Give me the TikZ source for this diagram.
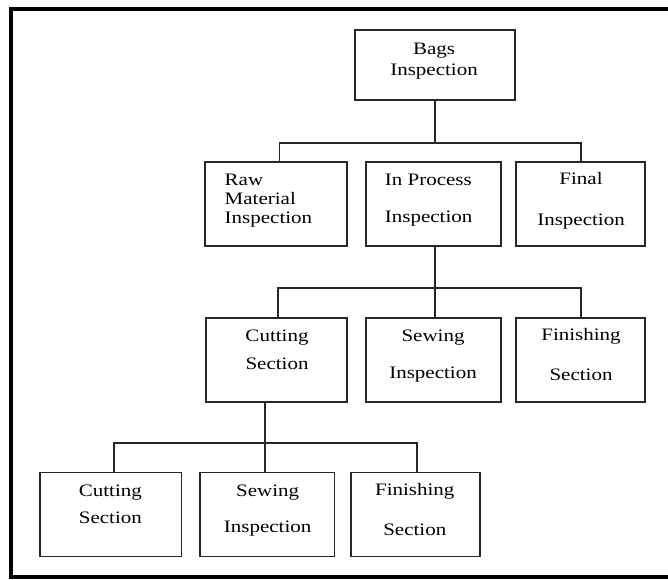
\documentclass[tikz,border=0pt]{standalone}
\usepackage{fontspec}
\usepackage{graphicx}
\setmainfont{Liberation Serif}
\tikzset{
  box/.style={draw=black!85, line width=1.5pt, inner sep=0pt, minimum height=84pt},
  txt/.style={anchor=base, inner sep=0pt, font=\fontsize{17.5}{21}\selectfont},
  txtl/.style={txt, anchor=base west},
  link/.style={draw=black!85, line width=1.5pt},
  frame/.style={line width=4pt}
}
\newcommand{\wide}[1]{\scalebox{1.2}[1]{#1}}
\begin{document}
\begin{tikzpicture}[x=1pt, y=-1pt]
\useasboundingbox (0,0) rectangle (668,579);
% open frame: top, left and bottom sides
\draw[frame] (668,9) -- (10.5,9) -- (10.5,577) -- (668,577);

% boxes
\node[box, minimum width=160pt, minimum height=70pt] (bags) at (435,65) {};
\node[box, minimum width=142pt] (raw)    at (276,204) {};
\node[box, minimum width=135pt] (inproc) at (433.5,204) {};
\node[box, minimum width=129pt] (final)  at (580.5,204) {};
\node[box, minimum width=141pt] (cut2)   at (276.5,360) {};
\node[box, minimum width=135pt] (sew2)   at (433.5,360) {};
\node[box, minimum width=129pt] (fin2)   at (580.5,360) {};
\node[box, minimum width=141.5pt] (cut3) at (110.75,514.25) {};
\node[box, minimum width=134.5pt] (sew3) at (267.25,514.25) {};
\node[box, minimum width=129pt]   (fin3) at (415.5,514.25) {};

% labels
\node[txt]  (bags-a)   at (434,54.3)  {\wide{Bags}};
\node[txt]  (bags-b)   at (434,75)    {\wide{Inspection}};
\node[txtl] (raw-a)    at (224.5,185) {\wide{Raw}};
\node[txtl] (raw-b)    at (224.5,204.3) {\wide{Material}};
\node[txtl] (raw-c)    at (224.5,223.3) {\wide{Inspection}};
\node[txtl] (inproc-a) at (384.7,185) {\wide{In Process}};
\node[txtl] (inproc-b) at (384.7,222.7) {\wide{Inspection}};
\node[txt]  (final-a)  at (581,184)   {\wide{Final}};
\node[txt]  (final-b)  at (581,225.3) {\wide{Inspection}};
\node[txt]  (cut2-a)   at (277,341.7) {\wide{Cutting}};
\node[txt]  (cut2-b)   at (277,369.3) {\wide{Section}};
\node[txt]  (sew2-a)   at (433,341.7) {\wide{Sewing}};
\node[txt]  (sew2-b)   at (433,378.3) {\wide{Inspection}};
\node[txt]  (fin2-a)   at (581,340.7) {\wide{Finishing}};
\node[txt]  (fin2-b)   at (581,380.7) {\wide{Section}};
\node[txt]  (cut3-a)   at (110.4,496) {\wide{Cutting}};
\node[txt]  (cut3-b)   at (110.4,523.3) {\wide{Section}};
\node[txt]  (sew3-a)   at (267.6,496) {\wide{Sewing}};
\node[txt]  (sew3-b)   at (267.6,532.7) {\wide{Inspection}};
\node[txt]  (fin3-a)   at (414.8,495) {\wide{Finishing}};
\node[txt]  (fin3-b)   at (414.8,535) {\wide{Section}};

% junction points of the horizontal buses
\coordinate (j1) at (435,143);
\coordinate (j2) at (435,288);
\coordinate (j3) at (265,443);

% connectors
\draw[link] (bags.south) -- (j1);
\draw[link] ([xshift=3.5pt]raw.north) |- (j1) -| ([xshift=0.5pt]final.north);

\draw[link] ([xshift=1.5pt]inproc.south) -- ([xshift=1.5pt]sew2.north);
\draw[link] ([xshift=1.5pt]cut2.north) |- (j2) -| ([xshift=0.5pt]fin2.north);

\draw[link] ([xshift=-11.5pt]cut2.south) -- ([xshift=-2.25pt]sew3.north);
\draw[link] ([xshift=3.25pt]cut3.north) |- (j3) -| ([xshift=1.5pt]fin3.north);
\end{tikzpicture}
\end{document}
